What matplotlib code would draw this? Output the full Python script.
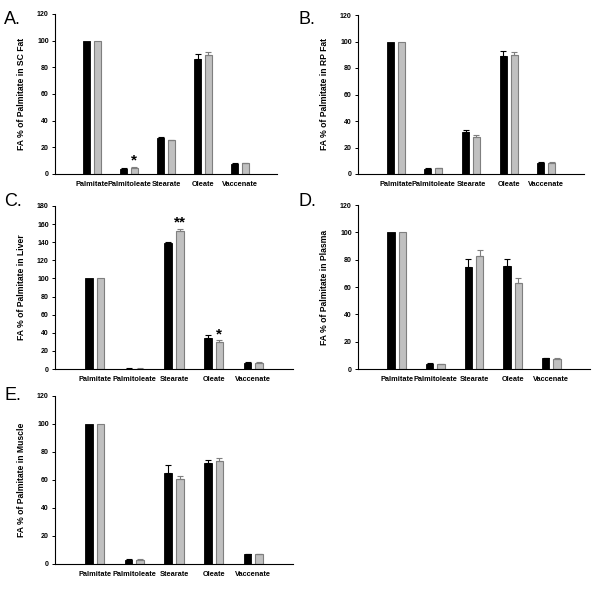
import numpy as np
import matplotlib
matplotlib.use('Agg')
import matplotlib.pyplot as plt

plt.rcParams['font.family'] = ['Liberation Sans', 'DejaVu Sans']

cats = ['Palmitate', 'Palmitoleate', 'Stearate', 'Oleate', 'Vaccenate']

# SC fat
sc_ctrl = [100, 4.0, 26.8, 86.2, 7.8]
sc_ctrl_err = [0, 0.3, 0.8, 3.8, 0.2]
sc_trt = [100, 4.8, 25.3, 89.5, 8.0]
sc_trt_err = [0, 0.3, 0.3, 2.0, 0.2]

# RP fat
rp_ctrl = [100, 4.0, 31.4, 89.0, 8.5]
rp_ctrl_err = [0, 0.3, 1.6, 3.8, 0.2]
rp_trt = [100, 4.3, 28.0, 89.8, 8.5]
rp_trt_err = [0, 0.2, 1.4, 2.0, 0.3]

# Liver
liver_ctrl = [100, 0.5, 138.7, 34.7, 7.0]
liver_ctrl_err = [0, 0.1, 1.1, 3.3, 0.2]
liver_trt = [100, 0.5, 152.3, 29.5, 7.0]
liver_trt_err = [0, 0.1, 2.2, 2.2, 0.2]

# Plasma
plasma_ctrl = [100, 3.9, 74.3, 75.3, 7.8]
plasma_ctrl_err = [0, 0.3, 5.9, 4.9, 0.2]
plasma_trt = [100, 3.4, 82.6, 63.0, 7.6]
plasma_trt_err = [0, 0.2, 4.2, 3.7, 0.2]

# Muscle
muscle_ctrl = [100, 3.1, 64.9, 71.8, 6.9]
muscle_ctrl_err = [0, 0.3, 6.1, 2.3, 0.2]
muscle_trt = [100, 3.1, 60.6, 73.9, 6.9]
muscle_trt_err = [0, 0.2, 2.1, 1.7, 0.2]

W, H = 600, 590
fig = plt.figure(figsize=(W / 100, H / 100), dpi=100)

BW = 0.19
OFF = 0.145
GRAY = '#c0c0c0'
EDGE = '#7f7f7f'


def panel(px, letter, letter_xy, ylabel, ctrl, ctrl_err, trt, trt_err, ymax, stars=()):
    # px = (left, top, right, bottom) in pixels
    l, t, r, b = px
    ax = fig.add_axes([l / W, 1 - b / H, (r - l) / W, (b - t) / H])
    x = np.arange(len(cats))
    ax.bar(x - OFF, ctrl, BW, color='black', edgecolor='black', linewidth=0.6)
    ax.bar(x + OFF, trt, BW, color=GRAY, edgecolor=EDGE, linewidth=0.8)
    ce = np.array(ctrl_err)
    te = np.array(trt_err)
    m = ce > 0
    ax.errorbar((x - OFF)[m], np.array(ctrl)[m], yerr=[np.zeros(m.sum()), ce[m]],
                fmt='none', ecolor='black', elinewidth=0.8, capsize=2.2, capthick=0.8)
    m = te > 0
    ax.errorbar((x + OFF)[m], np.array(trt)[m], yerr=[np.zeros(m.sum()), te[m]],
                fmt='none', ecolor=EDGE, elinewidth=0.8, capsize=2.2, capthick=0.8)
    for i, y, s in stars:
        ax.text(i + OFF, y, s, ha='center', va='baseline', fontsize=11, fontweight='bold')
    ax.set_xlim(-1, 5)
    ax.set_ylim(0, ymax)
    ax.set_yticks(np.arange(0, ymax + 1, 20))
    ax.set_xticks(x)
    ax.set_xticklabels(cats, fontsize=5.3, fontweight='bold')
    for lab in ax.get_yticklabels():
        lab.set_fontsize(5)
        lab.set_fontweight('bold')
    ax.tick_params(axis='x', length=0, pad=5)
    ax.tick_params(axis='y', length=2.5, width=0.7, pad=2)
    ax.spines['top'].set_visible(False)
    ax.spines['right'].set_visible(False)
    for sp in ('left', 'bottom'):
        ax.spines[sp].set_linewidth(0.8)
    ax.set_ylabel(ylabel, fontsize=6.2, fontweight='bold')
    ax.yaxis.set_label_coords(-29 / (r - l), 0.5)
    fig.text(letter_xy[0] / W, 1 - letter_xy[1] / H, letter, fontsize=13,
             ha='left', va='center')
    return ax


panel((55, 14, 277, 174), 'A.', (4, 19), 'FA % of Palmitate in SC Fat',
      sc_ctrl, sc_ctrl_err, sc_trt, sc_trt_err, 120, stars=[(1, 7.0, '*')])
panel((358, 15, 584, 174), 'B.', (299, 19), 'FA % of Palmitate in RP Fat',
      rp_ctrl, rp_ctrl_err, rp_trt, rp_trt_err, 120)
panel((55, 206, 293, 369), 'C.', (4, 202), 'FA % of Palmitate in Liver',
      liver_ctrl, liver_ctrl_err, liver_trt, liver_trt_err, 180,
      stars=[(2, 157, '**'), (3, 34, '*')])
panel((358, 205, 590, 369), 'D.', (299, 201), 'FA % of Palmitate in Plasma',
      plasma_ctrl, plasma_ctrl_err, plasma_trt, plasma_trt_err, 120)
panel((55, 396, 293, 564), 'E.', (4, 396), 'FA % of Palmitate in Muscle',
      muscle_ctrl, muscle_ctrl_err, muscle_trt, muscle_trt_err, 120)

fig.savefig('out.png', dpi=100)
